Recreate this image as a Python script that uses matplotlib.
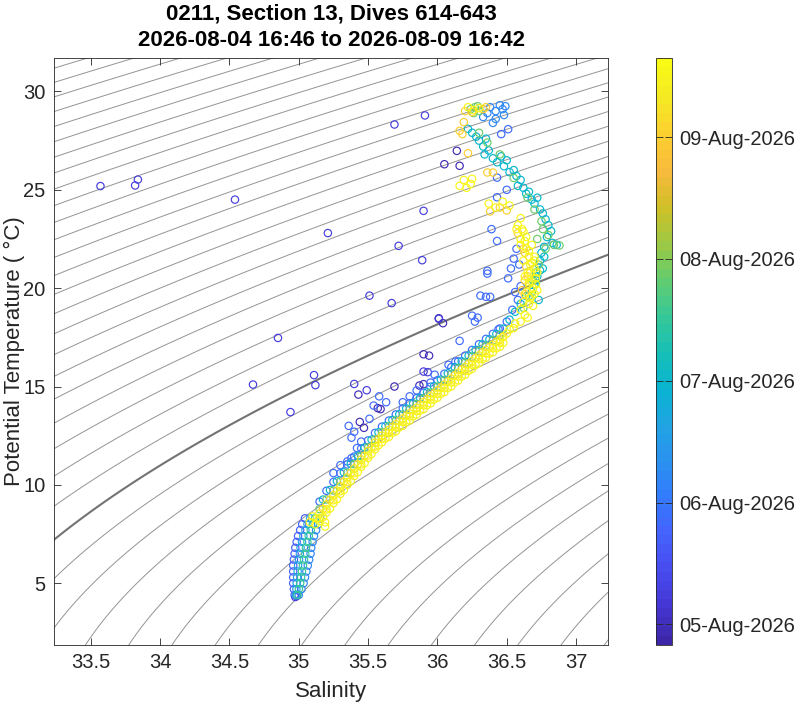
import numpy as np
import matplotlib
matplotlib.use("Agg")
import matplotlib.pyplot as plt
from matplotlib.colors import LinearSegmentedColormap, Normalize
from matplotlib.cm import ScalarMappable

plt.rcParams['font.family'] = ['Liberation Sans', 'DejaVu Sans']

# time axis: days of August 2026
t_min, t_max = 4.83, 9.65
cbar_ticks = [5, 6, 7, 8, 9]
cbar_labels = ['05-Aug-2026', '06-Aug-2026', '07-Aug-2026', '08-Aug-2026', '09-Aug-2026']

# --- points, grouped by (approx.) dive time ---
indigo_day = 4.95
indigo_sal = [36.14, 36.05, 36.16, 36.01, 36.04, 35.90, 35.94, 35.43, 35.69, 35.57, 35.59, 35.44, 35.47, 35.90, 35.87]
indigo_temp = [26.98, 26.30, 26.22, 18.47, 18.22, 16.64, 16.57, 14.59, 15.00, 13.90, 13.85, 13.20, 12.90, 15.12, 15.05]

violet_day = 5.25
violet_sal = [33.57, 33.82, 33.84, 34.54, 35.21, 35.69, 35.91, 35.90, 35.72, 35.89, 35.51, 35.67, 36.01, 34.85,
              35.11, 35.12, 34.67, 34.94, 35.40, 35.49, 35.90, 35.93, 34.975, 34.985]
violet_temp = [25.19, 25.22, 25.52, 24.50, 22.80, 28.32, 28.78, 23.93, 22.15, 21.42, 19.62, 19.24, 18.44, 17.47,
               15.58, 15.07, 15.10, 13.70, 15.13, 14.81, 15.76, 15.73, 4.30, 4.35]

blue_day = 5.85
blue_sal = [35.58, 35.63, 35.54, 35.36, 35.40, 35.38, 35.42, 35.38, 35.35, 35.51, 35.75, 35.80, 35.85, 35.95,
            36.08, 36.13, 35.98, 35.45, 35.30, 35.25,
            36.43, 36.43, 36.50, 36.39, 36.43, 36.36, 36.36, 36.31, 36.35, 36.38, 36.25, 36.27, 36.29, 36.16,
            36.46, 36.51, 36.51, 36.55, 36.57, 36.53, 36.56, 36.60, 36.58, 36.50, 36.44, 36.54, 36.59]
blue_temp = [14.50, 14.20, 14.03, 13.00, 12.70, 12.40, 11.87, 11.36, 11.19, 13.36, 14.20, 14.50, 14.80, 15.20,
             16.10, 16.27, 15.60, 12.20, 11.00, 10.60,
             25.62, 24.62, 25.00, 23.00, 22.40, 20.88, 20.74, 19.62, 19.56, 19.56, 18.60, 18.30, 18.50, 17.32,
             27.83, 28.08, 20.50, 21.50, 22.00, 21.00, 19.80, 20.10, 19.40, 18.30, 17.90, 18.90, 21.20]

top_day = 6.2
top_sal = [36.38, 36.42, 36.45, 36.47, 36.48, 36.42, 36.36, 36.49, 36.40, 36.33]
top_temp = [29.20, 29.00, 29.30, 29.10, 28.80, 28.60, 28.90, 29.25, 28.40, 28.70]

cyan_day = 7.0
cyan_sal = [36.22, 36.25, 36.28, 36.30, 36.33, 36.35, 36.37, 36.34, 36.40, 36.43, 36.46, 36.48, 36.50, 36.52,
            36.55, 36.57, 36.60, 36.58, 36.62, 36.64, 36.66, 36.68, 36.70, 36.72, 36.74, 36.76, 36.78, 36.80,
            36.82, 36.79, 36.83, 36.77, 36.75, 36.74, 36.76, 36.72, 36.70, 36.68, 36.52, 36.56, 36.60, 36.64,
            36.71, 36.86, 36.74, 36.77, 36.73]
cyan_temp = [28.10, 27.90, 27.70, 27.50, 27.20, 27.60, 27.00, 26.80, 26.60, 26.40, 26.70, 26.20, 26.50, 25.90,
             26.00, 25.70, 25.50, 25.20, 25.10, 24.80, 24.90, 24.50, 24.30, 24.60, 24.00, 23.80, 23.50, 23.20,
             22.90, 22.60, 22.30, 22.10, 21.80, 21.40, 21.00, 20.60, 20.20, 19.80, 18.40, 18.80, 19.20, 19.60,
             20.40, 22.20, 20.90, 21.60, 19.40]

green_day = 7.9
green_sal = [36.24, 36.27, 36.30, 36.26, 36.29, 36.30, 36.36, 36.45, 36.55, 36.65, 36.70, 36.75, 36.80, 36.84,
             36.88, 36.72, 36.73, 36.71, 36.69, 36.66, 36.62, 36.76, 36.78]
green_temp = [29.10, 29.20, 29.00, 28.90, 29.25, 27.90, 27.40, 26.80, 25.60, 24.60, 24.00, 23.40, 22.70, 22.20,
              22.17, 22.50, 21.20, 20.80, 20.40, 19.60, 19.00, 23.00, 22.00]

orange_day = 9.0
orange_sal = [36.20, 36.25, 36.33, 36.35, 36.19, 36.16, 36.18, 36.22, 36.36, 36.40, 36.38, 36.45, 36.50,
              36.63, 36.65, 36.63, 36.58, 36.61, 36.63, 36.64, 36.62]
orange_temp = [29.00, 28.95, 29.10, 29.20, 28.44, 28.00, 27.83, 26.86, 25.88, 25.88, 23.90, 24.10, 23.95,
               19.70, 20.60, 21.80, 22.80, 19.90, 20.40, 21.10, 22.00]

yellow_day = 9.5
yellow_sal = [36.16, 36.19, 36.21, 36.24, 36.25, 36.37, 36.42, 36.47, 36.52, 36.60, 36.58, 36.62, 36.60, 36.64,
              36.66, 36.67, 36.65, 36.68, 36.69, 36.67, 36.66, 36.63, 36.60, 36.55, 36.50, 36.70, 36.71, 36.72,
              36.69, 36.65, 36.63, 36.62, 36.60, 36.64, 36.57, 36.66, 36.68, 36.70, 36.22, 36.26, 36.30,
              35.08, 35.10, 35.12, 35.13, 35.19, 35.19,
              36.60, 36.62, 36.64, 36.66, 36.67, 36.68, 36.66, 36.63, 36.61, 36.56, 36.52, 36.47, 36.70, 36.71,
              36.72, 36.70, 36.68]
yellow_temp = [25.20, 25.50, 25.10, 25.30, 25.56, 24.30, 24.10, 24.40, 24.20, 23.56, 23.20, 22.88, 22.50, 22.03,
               21.60, 21.18, 20.80, 20.34, 20.00, 19.49, 19.20, 18.64, 18.30, 17.97, 17.70, 21.00, 20.50, 19.90,
               19.10, 18.50, 20.60, 21.40, 22.20, 22.60, 23.00, 20.20, 19.60, 21.40, 29.20, 29.05, 29.15,
               8.10, 8.40, 8.00, 8.30, 8.10, 7.88,
               18.90, 19.30, 19.80, 20.30, 20.80, 21.30, 21.90, 22.40, 23.00, 18.20, 17.90, 17.50, 19.70, 20.20,
               20.80, 21.60, 22.20]

# main thermocline band, two staggered salinity rows
band_sal_a = [35.15, 35.20, 35.25, 35.30, 35.35, 35.40, 35.45, 35.50, 35.55, 35.60, 35.65, 35.70, 35.75, 35.80,
              35.85, 35.90, 35.95, 36.00, 36.05, 36.10, 36.15, 36.20, 36.25, 36.30, 36.35, 36.40, 36.45]
band_blue_temp = [9.15, 9.70, 10.15, 10.59, 11.04, 11.44, 11.85, 12.26, 12.64, 12.96, 13.27, 13.58, 13.88, 14.15,
                  14.41, 14.68, 14.99, 15.32, 15.65, 15.98, 16.28, 16.57, 16.86, 17.15, 17.42, 17.68, 17.95]
band_green_temp = [8.77, 9.26, 9.71, 10.17, 10.62, 11.05, 11.47, 11.90, 12.31, 12.67, 12.97, 13.27, 13.56, 13.83,
                   14.10, 14.38, 14.68, 14.99, 15.31, 15.62, 15.92, 16.21, 16.51, 16.80, 17.07, 17.34, 17.61]
band_yellow_temp = [8.32, 8.75, 9.22, 9.68, 10.15, 10.60, 11.04, 11.49, 11.94, 12.34, 12.63, 12.92, 13.20, 13.48,
                    13.75, 14.04, 14.33, 14.62, 14.92, 15.21, 15.51, 15.80, 16.10, 16.40, 16.68, 16.95, 17.22]
band_yellow4_temp = [8.16, 8.60, 9.07, 9.54, 10.00, 10.45, 10.91, 11.37, 11.81, 12.16, 12.44, 12.72, 13.00, 13.28,
                     13.57, 13.85, 14.14, 14.43, 14.72, 15.01, 15.31, 15.60, 15.90, 16.19, 16.47, 16.74, 17.02]
band_sal_b = [35.175, 35.225, 35.275, 35.325, 35.375, 35.425, 35.475, 35.525, 35.575, 35.625, 35.675, 35.725,
              35.775, 35.825, 35.875, 35.925, 35.975, 36.025, 36.075, 36.125, 36.175, 36.225, 36.275, 36.325,
              36.375, 36.425, 36.475]
band_cyan_temp = [9.25, 9.74, 10.19, 10.64, 11.07, 11.48, 11.90, 12.30, 12.67, 12.99, 13.30, 13.59, 13.88, 14.14,
                  14.42, 14.71, 15.02, 15.35, 15.67, 15.98, 16.28, 16.57, 16.86, 17.14, 17.40, 17.67, 17.94]
band_orange_temp = [8.78, 9.24, 9.70, 10.16, 10.60, 11.04, 11.48, 11.91, 12.32, 12.66, 12.95, 13.24, 13.52, 13.79,
                    14.07, 14.36, 14.65, 14.96, 15.27, 15.57, 15.87, 16.16, 16.45, 16.74, 17.01, 17.28, 17.55]
band_yellow2_temp = [8.36, 8.80, 9.27, 9.74, 10.20, 10.65, 11.11, 11.57, 12.01, 12.36, 12.64, 12.92, 13.20, 13.48,
                     13.77, 14.05, 14.34, 14.63, 14.92, 15.21, 15.51, 15.80, 16.10, 16.39, 16.67, 16.94, 17.22]
band_yellow3_temp = [8.55, 9.00, 9.47, 9.93, 10.38, 10.84, 11.29, 11.73, 12.15, 12.50, 12.79, 13.08, 13.37, 13.64,
                     13.92, 14.21, 14.50, 14.80, 15.10, 15.40, 15.70, 15.99, 16.29, 16.58, 16.86, 17.13, 17.40]

# deep cluster near S=35, four columns
cluster_temp = [4.4, 4.7, 5.0, 5.3, 5.6, 5.9, 6.2, 6.5, 6.8, 7.1, 7.4, 7.7, 8.0, 8.3]
cluster_sal_1 = [34.970, 34.965, 34.960, 34.960, 34.960, 34.960, 34.965, 34.970, 34.975, 34.985, 34.995, 35.010, 35.025, 35.045]
cluster_sal_2 = [34.980, 34.983, 34.985, 34.988, 34.992, 34.995, 35.002, 35.008, 35.013, 35.023, 35.033, 35.048, 35.063, 35.082]
cluster_sal_3 = [34.990, 35.001, 35.010, 35.017, 35.023, 35.030, 35.038, 35.047, 35.052, 35.062, 35.072, 35.087, 35.102, 35.118]
cluster_sal_4 = [35.000, 35.020, 35.035, 35.045, 35.055, 35.065, 35.075, 35.085, 35.090, 35.100, 35.110, 35.125, 35.140, 35.155]

groups = [
    (indigo_day, indigo_sal, indigo_temp),
    (violet_day, violet_sal, violet_temp),
    (5.7, cluster_sal_1, cluster_temp),
    (blue_day, blue_sal, blue_temp),
    (blue_day, band_sal_a, band_blue_temp),
    (top_day, top_sal, top_temp),
    (6.25, cluster_sal_4, cluster_temp),
    (6.6, cluster_sal_2, cluster_temp),
    (cyan_day, cyan_sal, cyan_temp),
    (cyan_day, band_sal_b, band_cyan_temp),
    (7.5, cluster_sal_3, cluster_temp),
    (green_day, green_sal, green_temp),
    (green_day, band_sal_a, band_green_temp),
    (orange_day, orange_sal, orange_temp),
    (orange_day, band_sal_b, band_orange_temp),
    (9.3, band_sal_a, band_yellow3_temp),
    (9.4, band_sal_a, band_yellow4_temp),
    (yellow_day, yellow_sal, yellow_temp),
    (yellow_day, band_sal_a, band_yellow_temp),
    (9.55, band_sal_b, band_yellow2_temp),
]

# legacy parula
parula = LinearSegmentedColormap.from_list('parula', [
    (0.2422, 0.1504, 0.6603), (0.2706, 0.2147, 0.8364), (0.2813, 0.3006, 0.9414),
    (0.2699, 0.3892, 0.9906), (0.1963, 0.4847, 0.9892), (0.1687, 0.5703, 0.9359),
    (0.1248, 0.6459, 0.8883), (0.0297, 0.7082, 0.8163), (0.0964, 0.7500, 0.7120),
    (0.2161, 0.7843, 0.5923), (0.3909, 0.8029, 0.4354), (0.6174, 0.7876, 0.2612),
    (0.8203, 0.7498, 0.1535), (0.9728, 0.7298, 0.2394), (0.9892, 0.8136, 0.1885),
    (0.9597, 0.9135, 0.1423), (0.9769, 0.9839, 0.0805)], N=64)
norm = Normalize(t_min, t_max)


def sigma0(S, T):
    # UNESCO EOS-80 at surface pressure
    rw = (999.842594 + 6.793952e-2 * T - 9.095290e-3 * T**2 + 1.001685e-4 * T**3
          - 1.120083e-6 * T**4 + 6.536332e-9 * T**5)
    A = 0.824493 - 4.0899e-3 * T + 7.6438e-5 * T**2 - 8.2467e-7 * T**3 + 5.3875e-9 * T**4
    B = -5.72466e-3 + 1.0227e-4 * T - 1.6546e-6 * T**2
    return rw + A * S + B * S**1.5 + 4.8314e-4 * S**2 - 1000.0


fig = plt.figure(figsize=(8, 7.05), dpi=100)
ax = fig.add_axes([54 / 800, 60 / 705, 554 / 800, 587 / 705])
cax = fig.add_axes([656 / 800, 60 / 705, 16 / 800, 587 / 705])

sg, tg = np.meshgrid(np.linspace(33.0, 37.5, 300), np.linspace(1.0, 33.0, 300))
sig = sigma0(sg, tg)
levels = [l for l in np.arange(19.0, 31.0, 0.25) if abs(l - 26.0) > 1e-6]
ax.contour(sg, tg, sig, levels=levels, colors='0.58', linewidths=0.7, zorder=1)
ax.contour(sg, tg, sig, levels=[26.0], colors='0.45', linewidths=1.5, zorder=1)

for day, s, t in groups:
    col = parula(norm(day))
    ax.scatter(s, t, s=28, facecolors='none', edgecolors=[col], linewidths=0.85, zorder=2)

ax.set_xlim(33.235, 37.23)
ax.set_ylim(1.86, 31.7)
ax.set_xticks([33.5, 34, 34.5, 35, 35.5, 36, 36.5, 37])
ax.set_xticklabels(['33.5', '34', '34.5', '35', '35.5', '36', '36.5', '37'])
ax.set_yticks([5, 10, 15, 20, 25, 30])
ax.tick_params(direction='in', top=True, right=True, length=5, width=0.6,
               labelsize=14.5, colors='0.15', pad=6)
for sp in ax.spines.values():
    sp.set_color('0.15')
    sp.set_linewidth(0.6)
ax.set_xlabel('Salinity', fontsize=16, color='0.15', labelpad=6)
ax.set_ylabel('Potential Temperature ( \u00b0C)', fontsize=16, color='0.15')
ax.yaxis.set_label_coords(-0.052, 0.5)

fig.text(331 / 800, 1 - 14 / 705, '0211, Section 13, Dives 614-643', ha='center', va='center',
         fontsize=16, fontweight='bold')
fig.text(331 / 800, 1 - 40 / 705, '2026-08-04 16:46 to 2026-08-09 16:42', ha='center', va='center',
         fontsize=16, fontweight='bold')

cb = fig.colorbar(ScalarMappable(norm=norm, cmap=parula), cax=cax)
cb.set_ticks(cbar_ticks)
cb.set_ticklabels(cbar_labels)
cb.outline.set_edgecolor('0.15')
cb.outline.set_linewidth(0.6)
cax.tick_params(direction='in', left=True, right=True, length=5, width=0.6,
                labelsize=14.5, colors='0.15', pad=5)

fig.savefig('out.png', dpi=100)
